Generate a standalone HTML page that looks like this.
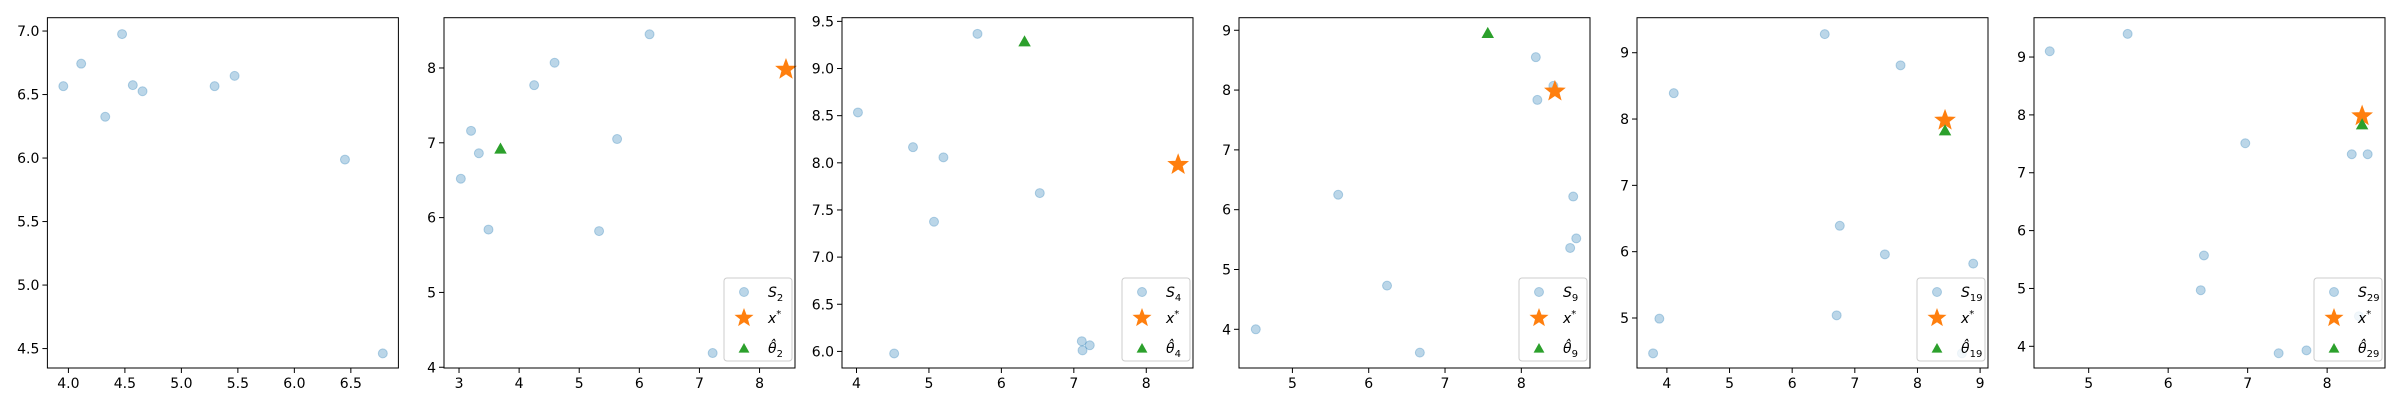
<!DOCTYPE html>
<html><head><meta charset="utf-8"><style>
html,body{margin:0;padding:0;background:#fff;}
svg{display:block;font-family:"DejaVu Sans","Liberation Sans",sans-serif;}
</style></head><body>
<svg id="chart" width="2400" height="400" viewBox="0 0 2400 400" xmlns="http://www.w3.org/2000/svg"></svg>
<script>
// ---- data ----
const panelLabels = [null, "2", "4", "9", "19", "29"];
const sampleX = [
  [3.955,4.113,4.475,4.326,4.570,4.656,5.294,5.471,6.448,6.783],
  [3.03,3.20,3.33,3.49,4.25,4.59,5.33,5.63,6.17,7.22],
  [4.02,4.52,4.78,5.07,5.20,5.67,6.53,7.11,7.12,7.22],
  [4.52,5.60,6.24,6.67,8.19,8.21,8.42,8.68,8.64,8.72],
  [3.78,3.88,4.11,6.52,6.76,6.71,7.48,7.73,8.89,8.71],
  [4.51,5.49,6.45,6.41,6.97,7.39,7.74,8.31,8.51,8.40]
];
const sampleY = [
  [6.566,6.743,6.976,6.325,6.574,6.526,6.566,6.647,5.988,4.462],
  [6.52,7.16,6.86,5.84,7.77,8.07,5.82,7.05,8.45,4.19],
  [8.534,5.978,8.166,7.375,8.058,9.368,7.679,6.108,6.011,6.065],
  [4.0,6.25,4.73,3.61,8.55,7.835,8.07,6.22,5.36,5.52],
  [4.467,4.99,8.39,9.28,6.39,5.04,5.96,8.81,5.82,4.467],
  [9.10,9.40,5.57,4.97,7.51,3.88,3.93,7.32,7.32,4.52]
];
const xStar = [8.44, 7.98];
const thetaX = [null, 3.69, 6.32, 7.56, 8.44, 8.44];
const thetaY = [null, 6.91, 9.278, 8.94, 7.815, 7.82];
const xDomains = [[3.814,6.921],[2.75,8.59],[3.80,8.645],[4.30,8.90],[3.523,9.126],[4.312,8.728]];
const yDomains = [[4.347,7.105],[3.99,8.672],[5.824,9.539],[3.353,9.21],[4.246,9.528],[3.625,9.68]];
const xTicks = [
  ["4.0","4.5","5.0","5.5","6.0","6.5"],
  ["3","4","5","6","7","8"],
  ["4","5","6","7","8"],
  ["5","6","7","8"],
  ["4","5","6","7","8","9"],
  ["5","6","7","8"]
];
const yTicks = [
  ["4.5","5.0","5.5","6.0","6.5","7.0"],
  ["4","5","6","7","8"],
  ["6.0","6.5","7.0","7.5","8.0","8.5","9.0","9.5"],
  ["4","5","6","7","8","9"],
  ["5","6","7","8","9"],
  ["4","5","6","7","8","9"]
];
// ---- layout ----
const NS = "http://www.w3.org/2000/svg";
const svg = document.getElementById("chart");
const lefts = [47.4,444,842,1239,1637,2034];
const W = 351, TOP = 17.7, BOT = 368;
function mk(tag, attrs, parent){
  const e = document.createElementNS(NS, tag);
  for (const k in attrs) e.setAttribute(k, attrs[k]);
  (parent||svg).appendChild(e);
  return e;
}
function starPath(cx, cy, R){
  const r = R*0.42; let d = "";
  for (let i=0;i<10;i++){
    const a = -Math.PI/2 + i*Math.PI/5, rr = i%2?r:R;
    d += (i?"L":"M") + (cx+rr*Math.cos(a)).toFixed(2) + "," + (cy+rr*Math.sin(a)).toFixed(2);
  }
  return d+"Z";
}
function triPath(cx, cy, s){
  return `M${cx},${cy-s}L${cx+s*0.9},${cy+s*0.6}L${cx-s*0.9},${cy+s*0.6}Z`;
}
for (let p=0;p<6;p++){
  const L = lefts[p], R = L+W;
  const [x0,x1] = xDomains[p], [y0,y1] = yDomains[p];
  const sx = v => L + (v-x0)/(x1-x0)*W;
  const sy = v => BOT - (v-y0)/(y1-y0)*(BOT-TOP);
  const g = mk("g", {});
  
  
  xTicks[p].forEach(t=>{
    const x = sx(parseFloat(t));
    const tk = mk("line",{x1:x,x2:x,y1:BOT,y2:BOT+5,stroke:"#000","stroke-width":1},g);
    
    
    const tx = mk("text",{x:x,y:BOT+20,"text-anchor":"middle","font-size":14,fill:"#000"},g);
    
    
    tx.textContent = t;
  });
  yTicks[p].forEach(t=>{
    const y = sy(parseFloat(t));
    const tk = mk("line",{x1:L-5,x2:L,y1:y,y2:y,stroke:"#000","stroke-width":1},g);
    
    
    const tx = mk("text",{x:L-8,y:y+5,"text-anchor":"end","font-size":14,fill:"#000"},g);
    
    
    tx.textContent = t;
  });
  for (let i=0;i<sampleX[p].length;i++){
    const c = mk("ellipse",{cx:sx(sampleX[p][i]),cy:sy(sampleY[p][i]),rx:4.5,ry:4.5,fill:"rgba(31,119,180,0.3)",stroke:"rgba(31,119,180,0.3)","stroke-width":1},g);
    
    
  }
  if (p>0){
    const s = mk("path",{d:starPath(sx(xStar[0]),sy(xStar[1]),10),fill:"#ff7f0e",stroke:"#ff7f0e","stroke-width":1},g);
    
    
    const t = mk("path",{d:triPath(sx(thetaX[p]),sy(thetaY[p]),6),fill:"#2ca02c",stroke:"#2ca02c","stroke-width":1},g);
    
    
    const lg = mk("g",{},g);
    
    
    const lw = 68, lh = 83, lx = R-3-lw, ly = BOT-7-lh;
    mk("rect",{x:lx,y:ly,width:lw,height:lh,rx:3,fill:"rgba(255,255,255,0.8)",stroke:"#ccc","stroke-width":1},lg);
    const mx = lx+20, tx = lx+44;
    const rows = [ly+14, ly+40, ly+70];
    mk("ellipse",{cx:mx,cy:rows[0],rx:4.5,ry:4.5,fill:"rgba(31,119,180,0.3)",stroke:"rgba(31,119,180,0.3)"},lg);
    mk("path",{d:starPath(mx,rows[1],10),fill:"#ff7f0e"},lg);
    mk("path",{d:triPath(mx,rows[2]+1,6),fill:"#2ca02c"},lg);
    const t1 = mk("text",{x:tx,y:rows[0]+5,"font-size":14},lg);
    t1.innerHTML = `<tspan font-style="italic">S</tspan><tspan font-size="10" dy="4">${panelLabels[p]}</tspan>`;
    const t2 = mk("text",{x:tx,y:rows[1]+5,"font-size":14},lg);
    t2.innerHTML = `<tspan font-style="italic">x</tspan><tspan font-size="10" dy="-6">*</tspan>`;
    const t3 = mk("text",{x:tx,y:rows[2]+5,"font-size":14},lg);
    t3.innerHTML = `<tspan font-style="italic">θ̂</tspan><tspan font-size="10" dy="4">${panelLabels[p]}</tspan>`;
  }
  const fr = mk("rect",{x:L,y:TOP,width:W,height:BOT-TOP,fill:"none",stroke:"#000","stroke-width":1},g);
  
  
}
</script>
</body></html>
